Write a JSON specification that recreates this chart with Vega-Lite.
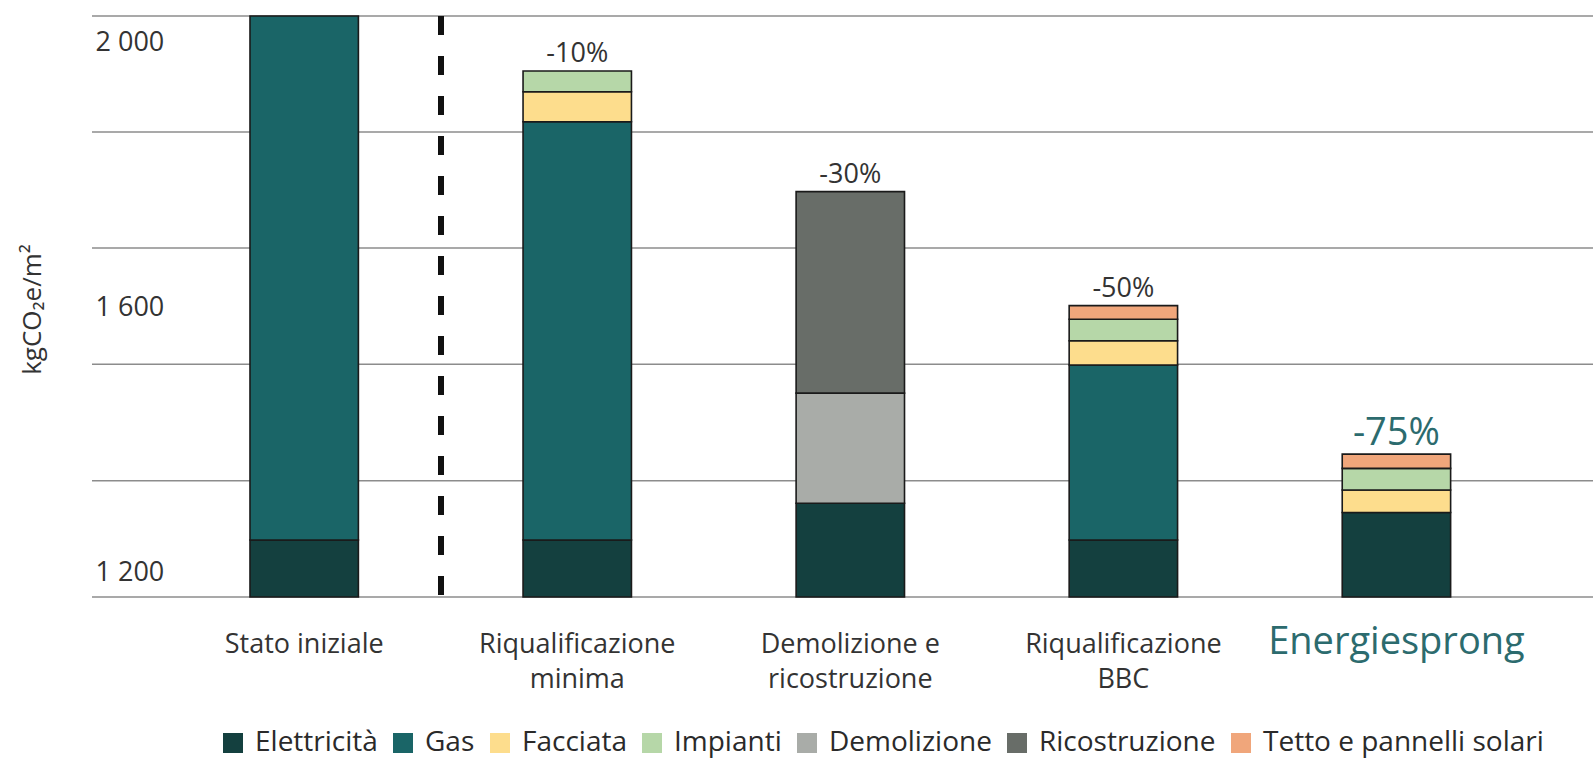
{
  "$schema": "https://vega.github.io/schema/vega-lite/v6.json",
  "width": 1501,
  "height": 581,
  "autosize": {"type": "none"},
  "padding": {"left": 92, "top": 16, "right": 0, "bottom": 163},
  "background": "white",
  "config": {"font": "Open Sans", "view": {"stroke": null}},
  "datasets": {
    "segments": [
      {"scenario": "Stato iniziale", "component": "Elettricità", "start": 1163.5, "end": 1249.5},
      {"scenario": "Stato iniziale", "component": "Gas", "start": 1249.5, "end": 2040},
      {"scenario": "Riqualificazione minima", "component": "Elettricità", "start": 1163.5, "end": 1249.5},
      {"scenario": "Riqualificazione minima", "component": "Gas", "start": 1249.5, "end": 1880.5},
      {"scenario": "Riqualificazione minima", "component": "Facciata", "start": 1880.5, "end": 1925.8},
      {"scenario": "Riqualificazione minima", "component": "Impianti", "start": 1925.8, "end": 1957},
      {"scenario": "Demolizione e ricostruzione", "component": "Elettricità", "start": 1163.5, "end": 1305},
      {"scenario": "Demolizione e ricostruzione", "component": "Demolizione", "start": 1305, "end": 1471},
      {"scenario": "Demolizione e ricostruzione", "component": "Ricostruzione", "start": 1471, "end": 1775},
      {"scenario": "Riqualificazione BBC", "component": "Elettricità", "start": 1163.5, "end": 1249.5},
      {"scenario": "Riqualificazione BBC", "component": "Gas", "start": 1249.5, "end": 1513.5},
      {"scenario": "Riqualificazione BBC", "component": "Facciata", "start": 1513.5, "end": 1550},
      {"scenario": "Riqualificazione BBC", "component": "Impianti", "start": 1550, "end": 1582.5},
      {"scenario": "Riqualificazione BBC", "component": "Tetto e pannelli solari", "start": 1582.5, "end": 1603},
      {"scenario": "Energiesprong", "component": "Elettricità", "start": 1163.5, "end": 1291},
      {"scenario": "Energiesprong", "component": "Facciata", "start": 1291, "end": 1325},
      {"scenario": "Energiesprong", "component": "Impianti", "start": 1325, "end": 1357.5},
      {"scenario": "Energiesprong", "component": "Tetto e pannelli solari", "start": 1357.5, "end": 1379}
    ],
    "grid": [
      {"v": 1163.5}, {"v": 1339}, {"v": 1514.5}, {"v": 1690}, {"v": 1865}, {"v": 2040}
    ],
    "changes": [
      {"scenario": "Riqualificazione minima", "change": "-10%", "total": 1957},
      {"scenario": "Demolizione e ricostruzione", "change": "-30%", "total": 1775},
      {"scenario": "Riqualificazione BBC", "change": "-50%", "total": 1603},
      {"scenario": "Energiesprong", "change": "-75%", "total": 1379}
    ]
  },
  "layer": [
    {
      "data": {"name": "grid"},
      "mark": {"type": "rule", "color": "#8c8c8c", "strokeWidth": 1.5},
      "encoding": {
        "y": {"field": "v", "type": "quantitative"}
      }
    },
    {
      "data": {"name": "segments"},
      "mark": {"type": "bar", "stroke": "#1a1a1a", "strokeWidth": 1.6},
      "encoding": {
        "x": {
          "field": "scenario",
          "type": "nominal",
          "scale": {
            "domain": ["Stato iniziale", "Riqualificazione minima", "Demolizione e ricostruzione", "Riqualificazione BBC", "Energiesprong"],
            "paddingInner": 0.603,
            "paddingOuter": 0.55,
            "align": 0.526
          },
          "axis": {
            "title": null,
            "domain": false,
            "ticks": false,
            "tickSize": 0,
            "labelAngle": 0,
            "labelPadding": {"condition": {"test": "datum.value == 'Energiesprong'", "value": 26}, "value": 34},
            "labelLimit": 0,
            "labelBaseline": "top",
            "labelLineHeight": 35,
            "labelFontSize": {"condition": {"test": "datum.value == 'Energiesprong'", "value": 38}, "value": 27},
            "labelColor": {"condition": {"test": "datum.value == 'Energiesprong'", "value": "#2c6b6e"}, "value": "#333333"},
            "labelExpr": "datum.label == 'Riqualificazione minima' ? ['Riqualificazione', 'minima'] : datum.label == 'Demolizione e ricostruzione' ? ['Demolizione e', 'ricostruzione'] : datum.label == 'Riqualificazione BBC' ? ['Riqualificazione', 'BBC'] : datum.label"
          }
        },
        "y": {
          "field": "start",
          "type": "quantitative",
          "scale": {"domain": [1163.5, 2040], "nice": false, "zero": false},
          "axis": {
            "values": [1200, 1600, 2000],
            "labelExpr": "replace(format(datum.value, ','), ',', ' ')",
            "grid": false,
            "domain": false,
            "ticks": false,
            "tickSize": 0,
            "labelAlign": "left",
            "labelBaseline": "middle",
            "labelPadding": -3,
            "labelFontSize": 27,
            "labelColor": "#333333",
            "title": "kgCO₂e/m²",
            "titleFontSize": 26,
            "titleFontWeight": "normal",
            "titleColor": "#333333",
            "titleAngle": -90,
            "titleX": -60,
            "titleY": 293,
            "titleAlign": "center",
            "titleBaseline": "middle"
          }
        },
        "y2": {"field": "end"},
        "color": {
          "field": "component",
          "type": "nominal",
          "scale": {
            "domain": ["Elettricità", "Gas", "Facciata", "Impianti", "Demolizione", "Ricostruzione", "Tetto e pannelli solari"],
            "range": ["#14403f", "#1a6567", "#fddd8d", "#b6d7a8", "#a9aca8", "#686d68", "#f0a67b"]
          },
          "legend": {
            "title": null,
            "orient": "none",
            "direction": "horizontal",
            "legendX": 127,
            "legendY": 713,
            "symbolType": "square",
            "symbolSize": 400,
            "symbolStrokeWidth": 0,
            "labelFontSize": 28,
            "labelColor": "#2a2a2a",
            "labelOffset": 8,
            "columnPadding": 11,
            "labelLimit": 0
          }
        }
      }
    },
    {
      "data": {"name": "segments"},
      "mark": {"type": "rule", "color": "#111111", "strokeWidth": 5, "strokeDash": [19, 21]},
      "encoding": {
        "x": {"datum": "Stato iniziale", "bandPosition": 1.762}
      }
    },
    {
      "data": {"name": "changes"},
      "mark": {"type": "text", "baseline": "alphabetic", "align": "center", "dy": -9},
      "encoding": {
        "x": {"field": "scenario", "type": "nominal"},
        "y": {"field": "total", "type": "quantitative"},
        "text": {"field": "change"},
        "size": {"condition": {"test": "datum.scenario == 'Energiesprong'", "value": 38}, "value": 27},
        "color": {"condition": {"test": "datum.scenario == 'Energiesprong'", "value": "#2c6b6e"}, "value": "#333333"}
      }
    }
  ]
}
